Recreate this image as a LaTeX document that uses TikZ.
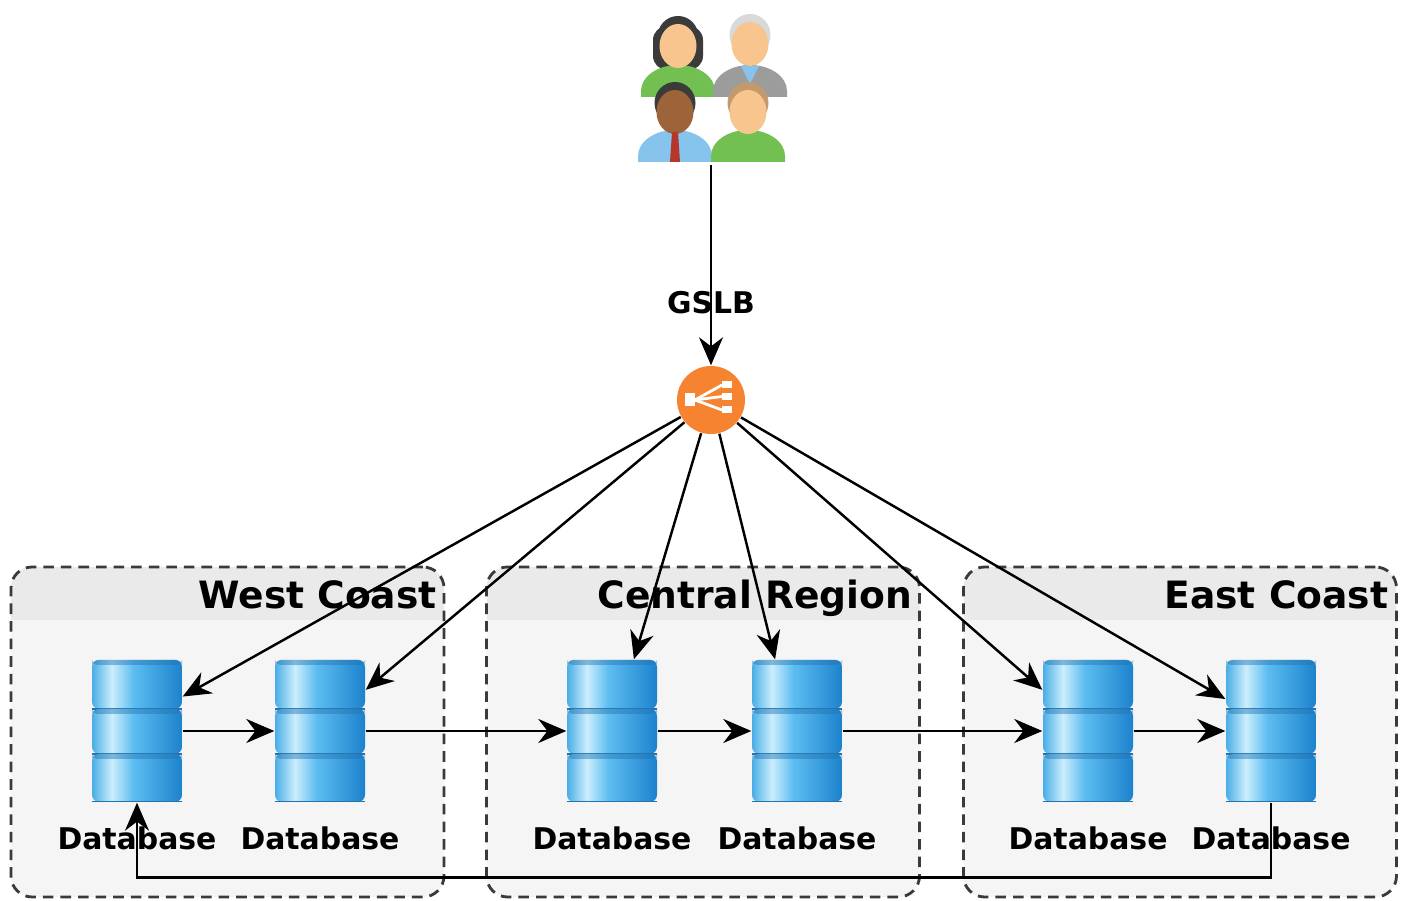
\documentclass[tikz,border=0pt]{standalone}
\usepackage{fontspec}
\setmainfont{DejaVu Sans}
\usetikzlibrary{arrows.meta, positioning, calc}
\definecolor{lborange}{HTML}{F5832F}
\definecolor{dbedge}{HTML}{4AAEE6}
\definecolor{dblite}{HTML}{CBEEFD}
\definecolor{dbmid}{HTML}{5DBDF1}
\definecolor{dbdark}{HTML}{1C82CC}
\definecolor{dbline}{HTML}{2473B0}
\definecolor{boxgray}{HTML}{F5F5F5}
\definecolor{hdrgray}{HTML}{EAEAEA}
\definecolor{dashgray}{HTML}{3A3A3A}
\definecolor{skin}{HTML}{F8C58E}
\definecolor{skindk}{HTML}{9C6438}
\definecolor{hairdk}{HTML}{3B3B3B}
\definecolor{hairgray}{HTML}{D9D9D9}
\definecolor{hairbrown}{HTML}{C39A6E}
\definecolor{shirtgreen}{HTML}{72BF52}
\definecolor{shirtgray}{HTML}{9C9C9C}
\definecolor{shirtblue}{HTML}{86C4EE}
\definecolor{tiered}{HTML}{B5372B}

\pgfdeclarehorizontalshading{dbbody}{100bp}{color(0bp)=(dbedge); color(25bp)=(dbedge);
  color(36bp)=(dblite); color(48bp)=(dbmid); color(75bp)=(dbdark); color(100bp)=(dbdark)}

% one member of the user group: head at (#1,#2), shoulders resting on #3
\newcommand{\person}[6]{%
  \fill[#6] (#1-0.37,#3) -- (#1-0.37,#3+0.06)
    arc[start angle=180, end angle=0, x radius=0.37, y radius=0.26] -- (#1+0.37,#3) -- cycle;
  \fill[#5] (#1,#2+0.05) ellipse[x radius=0.205, y radius=0.21];
  \fill[#4] (#1,#2-0.04) ellipse[x radius=0.185, y radius=0.22];
}

\begin{document}
\begin{tikzpicture}[
  >={Stealth[length=2.8mm, width=2.4mm]},
  arr/.style={->, line width=0.7pt, black},
  region/.style={draw=dashgray, dash pattern=on 3pt off 2pt, line width=0.8pt,
    rounded corners=6pt, fill=boxgray, minimum width=4.33cm, minimum height=3.30cm,
    path picture={\fill[hdrgray, sharp corners] ([yshift=-0.53cm]path picture bounding box.north west)
      rectangle (path picture bounding box.north east);}},
  hdr/.style={font=\fontsize{10.7}{12}\selectfont\bfseries, anchor=base east, inner sep=0pt},
  dbstack/.style={minimum width=0.9cm, minimum height=1.42cm, inner sep=0pt,
    path picture={
      \begin{scope}[shift={(path picture bounding box.center)}]
        \foreach \ya/\yb in {0.71/0.22, 0.22/-0.23, -0.23/-0.71}{
          \shade[shading=dbbody, rounded corners=2pt] (-0.45,\yb) rectangle (0.45,\ya);
          \fill[dbline, opacity=0.45, rounded corners=1.5pt] (-0.45,\ya-0.05) rectangle (0.45,\ya);
          \draw[dbline, line width=0.3pt] (-0.45,\yb) -- (0.45,\yb);
        }
      \end{scope}}},
  dblbl/.style={font=\fontsize{8.5}{10}\selectfont\bfseries, inner sep=0pt},
  lbl/.style={font=\fontsize{8.5}{10}\selectfont\bfseries, inner sep=0pt},
  lbnode/.style={circle, fill=lborange, minimum size=0.68cm, inner sep=0pt},
  usernode/.style={minimum width=1.55cm, minimum height=1.52cm, inner sep=0pt},
]

\useasboundingbox (0,0) rectangle (14.11,9.01);
\fill[white] (0,0) rectangle (14.11,9.01);

% === Regions ===
\node[region] (west) at (2.275,1.69) {};
\node[region] (central) at (7.03,1.69) {};
\node[region] (east) at (11.80,1.69) {};

\node[hdr] at ([xshift=-0.08cm, yshift=-0.43cm]west.north east) {West Coast};
\node[hdr] at ([xshift=-0.08cm, yshift=-0.43cm]central.north east) {Central Region};
\node[hdr] at ([xshift=-0.09cm, yshift=-0.43cm]east.north east) {East Coast};

% === Databases ===
\node[dbstack] (w1) at (1.37,1.70) {};
\node[dbstack] (w2) at (3.20,1.70) {};
\node[dbstack] (c1) at (6.12,1.70) {};
\node[dbstack] (c2) at (7.97,1.70) {};
\node[dbstack] (e1) at (10.88,1.70) {};
\node[dbstack] (e2) at (12.71,1.70) {};

\foreach \n in {w1,w2,c1,c2,e1,e2}
  \node[dblbl, below=0.23cm of \n] {Database};

% === Users and the global load balancer ===
\node[usernode] (users) at (7.11,8.13) {};
\begin{scope}[shift={(users.center)}]
  % back row
  \fill[hairdk, rounded corners=4pt] (-0.58,0.18) rectangle (-0.08,0.62);
  \person{-0.33}{0.46}{-0.09}{skin}{hairdk}{shirtgreen}
  \person{0.39}{0.48}{-0.09}{skin}{hairgray}{shirtgray}
  \fill[shirtblue] (0.30,0.22) -- (0.48,0.22) -- (0.39,0.04) -- cycle;
  % front row
  \person{-0.36}{-0.20}{-0.74}{skindk}{hairdk}{shirtblue}
  \fill[tiered] (-0.39,-0.44) -- (-0.33,-0.44) -- (-0.31,-0.74) -- (-0.41,-0.74) -- cycle;
  \person{0.37}{-0.20}{-0.74}{skin}{hairbrown}{shirtgreen}
\end{scope}

\node[lbnode] (lb) at (7.11,5.01) {};
\begin{scope}[shift={(lb.center)}, white]
  \fill (-0.26,-0.065) rectangle (-0.16,0.065);
  \foreach \y in {0.15,0.035,-0.10}{
    \fill (0.11,\y-0.035) rectangle (0.21,\y+0.035);
    \draw[line width=0.8pt] (-0.16,0) -- (0.11,\y);
  }
\end{scope}

\draw[arr] (users) -- (lb) node[pos=0.69, lbl] {GSLB};

% === Balancer to every database ===
\draw[arr] (lb) -- (w1.37);
\draw[arr] (lb) -- (w2.42);
\draw[arr] (lb) -- (c1.73);
\draw[arr] (lb) -- (c2.107);
\draw[arr] (lb) -- (e1.138);
\draw[arr] (lb) -- (e2.145);

% === Replication chain ===
\draw[arr] (w1) -- (w2);
\draw[arr] (w2) -- (c1);
\draw[arr] (c1) -- (c2);
\draw[arr] (c2) -- (e1);
\draw[arr] (e1) -- (e2);
\draw[arr] (e2.south) -- ++(0,-0.75) -| (w1.south);

\end{tikzpicture}
\end{document}
